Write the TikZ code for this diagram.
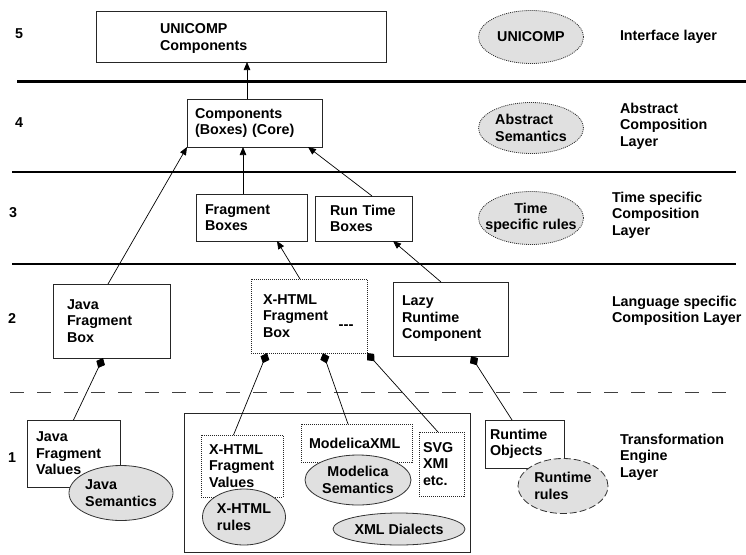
\documentclass[tikz,border=0pt]{standalone}
\usepackage{fontspec}
\setmainfont{Liberation Sans}
\usetikzlibrary{arrows.meta,shapes.geometric}
\begin{document}
\begin{tikzpicture}[x=1pt,y=-1pt,
  font=\fontsize{14.3}{16.5}\selectfont\bfseries,
  every node/.style={outer sep=0pt},
  box/.style={draw=black!85, line width=0.8pt, rectangle, anchor=north west, align=left, inner ysep=0pt},
  dotbox/.style={box, dash pattern=on 1pt off 1pt},
  oval/.style={ellipse, fill=black!12, draw=black!80, line width=0.8pt, inner sep=0pt},
  dotoval/.style={oval, dash pattern=on 1pt off 1pt},
  dashoval/.style={oval, dash pattern=on 7pt off 3pt},
  layerrule/.style={line width=2.6pt, black},
  sep/.style={line width=1pt, black!75, dash pattern=on 14pt off 13pt},
  link/.style={line width=0.7pt},
  arr/.style={link, -{Triangle[length=8pt,width=6.5pt]}},
  dia/.style={link, -{Diamond[length=11pt,width=9.5pt]}},
  lbl/.style={anchor=west, align=left, inner sep=0pt},
  num/.style={inner sep=0pt},
]
\useasboundingbox (0,0) rectangle (746,554);

% layer separators
\draw[layerrule] (17,81.5) -- (746,81.5);
\draw[layerrule] (12,172) -- (736,172);
\draw[layerrule] (12,264) -- (736,264);
\draw[sep] (10,392) -- (736,392);

% layer numbers
\node[num] (n5) at (19,34) {5};
\node[num] (n4) at (19,123) {4};
\node[num] (n3) at (13,213) {3};
\node[num] (n2) at (12,319) {2};
\node[num] (n1) at (12,458) {1};

% layer names
\node[lbl] (l5) at (620,37) {Interface layer};
\node[lbl] (l4) at (620,126) {Abstract\\Composition\\Layer};
\node[lbl] (l3) at (612,215) {Time specific\\Composition\\Layer};
\node[lbl] (l2) at (612,311) {Language specific\\Composition Layer};
\node[lbl] (l1) at (620,457) {Transformation\\Engine\\Layer};

% layer semantics
\node[dotoval, minimum width=105pt, minimum height=53pt, label={[name=e5t]center:UNICOMP}] (e5) at (531,37) {};
\node[dotoval, minimum width=105pt, minimum height=51pt, label={[name=e4t, align=left]center:Abstract\\Semantics}] (e4) at (531,128) {};
\node[dotoval, minimum width=105pt, minimum height=53pt, label={[name=e3t, align=center]center:Time\\specific rules}] (e3) at (531,218) {};

% level 5 and 4
\node[box, minimum height=51pt, inner xsep=64pt, text width=162pt] (uni) at (96,11) {\rule{0pt}{14pt}UNICOMP\\Components};
\node[box, minimum height=48pt, inner xsep=8pt, text width=119pt] (core) at (187,99) {Components\\(Boxes) (Core)};

% level 3
\node[box, minimum height=47pt, inner xsep=9pt, text width=93pt] (frag) at (196,194) {Fragment\\Boxes};
\node[box, minimum height=45pt, inner xsep=15pt, text width=67pt] (rtb) at (315,196) {Run Time\\Boxes};

% level 2
\node[box, minimum height=74pt, inner xsep=14pt, text width=89pt] (jfb) at (53,284) {Java\\Fragment\\Box};
\node[dotbox, minimum height=74pt, inner xsep=12pt, text width=92pt] (xfb) at (251,279) {X-HTML\\Fragment\\Box};
\node[num, font=\fontsize{15}{16}\selectfont\bfseries] (more) at (346,327) {{-}{-}{-}};
\node[box, minimum height=74pt, inner xsep=9pt, text width=97pt] (lazy) at (393,282) {Lazy\\Runtime\\Component};

% level 1
\node[box, minimum width=286pt, minimum height=139pt, inner sep=0pt] (dial) at (184,413) {};
\node[box, minimum height=67pt, inner xsep=9pt, text width=75pt] (jfv) at (27,420) {Java\\Fragment\\Values};
\node[oval, minimum width=104pt, minimum height=55pt, label={[name=jsemt, align=left]center:Java\\Semantics}] (jsem) at (121,493) {};
\node[dotbox, minimum height=62pt, inner xsep=8pt, text width=66pt] (xfv) at (201,435) {X-HTML\\Fragment\\Values};
\node[oval, minimum width=83pt, minimum height=56pt, label={[name=xrult, align=left]center:X-HTML\\rules}] (xrul) at (244,517) {};
\node[dotbox, minimum height=38pt, inner xsep=8pt, text width=95pt] (mxml) at (301,424) {ModelicaXML};
\node[oval, minimum width=106pt, minimum height=50pt, label={[name=msemt, align=center]center:Modelica\\Semantics}] (msem) at (358,480) {};
\node[dotbox, minimum height=64pt, inner xsep=4pt, text width=37pt] (svg) at (419,432) {SVG\\XMI\\etc.};
\node[oval, minimum width=132pt, minimum height=32pt, label={[name=xmldt]center:XML Dialects}] (xmld) at (399,529) {};
\node[box, minimum height=48pt, inner xsep=5pt, text width=69pt] (rto) at (485,420) {Runtime\\Objects};
\node[dashoval, minimum width=90pt, minimum height=55pt, label={[name=rrult, align=left]center:Runtime\\rules}] (rrul) at (563,486) {};

% composition arrows
\draw[arr] ([xshift=-7.5pt]core.north) -- ([xshift=6pt]uni.south);
\draw[arr] ([xshift=-8.5pt]frag.north) -- ([xshift=-11.5pt]core.south);
\draw[arr] ([xshift=8.5pt]rtb.north) -- ([xshift=53.5pt]core.south);
\draw[arr] ([xshift=-3.5pt]jfb.north) -- (core.south west);
\draw[arr] ([xshift=-9pt]xfb.north) -- ([xshift=25.5pt]frag.south);
\draw[arr] ([xshift=-9.5pt]lazy.north) -- ([xshift=29.5pt]rtb.south);

% aggregation links
\draw[dia] (jfv.north) -- ([xshift=-8.5pt]jfb.south);
\draw[dia] ([xshift=-8.5pt]xfv.north) -- ([xshift=-42pt]xfb.south);
\draw[dia] ([xshift=-8.5pt]mxml.north) -- ([xshift=14pt]xfb.south);
\draw[dia] ([xshift=-3.5pt]svg.north) -- (xfb.south east);
\draw[dia] ([xshift=-12.5pt]rto.north) -- ([xshift=20.5pt]lazy.south);
\end{tikzpicture}
\end{document}
